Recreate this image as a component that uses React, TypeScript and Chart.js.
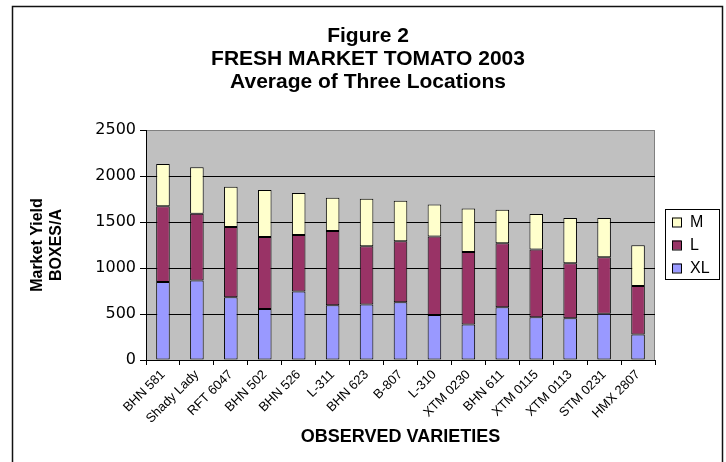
import React, { useEffect, useRef } from 'react';
import { Chart, registerables } from 'chart.js';

Chart.register(...registerables);

const categories = [
  'BHN 581', 'Shady Lady', 'RFT 6047', 'BHN 502', 'BHN 526', 'L-311', 'BHN 623',
  'B-807', 'L-310', 'XTM 0230', 'BHN 611', 'XTM 0115', 'XTM 0113', 'STM 0231', 'HMX 2807',
];
const xlValues = [847, 865, 683, 555, 745, 595, 602, 628, 489, 387, 573, 464, 453, 504, 277];
const lValues = [825, 726, 762, 781, 613, 807, 635, 664, 854, 788, 697, 737, 598, 613, 526];
const mValues = [458, 504, 438, 511, 456, 361, 515, 438, 347, 471, 362, 387, 493, 427, 445];
const seriesLabels = ['XL', 'L', 'M'];
const seriesColors = ['#9999FF', '#993366', '#FFFFCC'];
const titleLines = ['Figure 2', 'FRESH MARKET TOMATO 2003', 'Average of Three Locations'];
const yTitleLines = ['Market Yield', 'BOXES/A'];
const xTitle = 'OBSERVED VARIETIES';

const FONT = "'Liberation Sans', Arial, sans-serif";

const decor = {
  id: 'decor',
  beforeDraw(chart: any) {
    const { ctx, chartArea: a } = chart;
    ctx.save();
    ctx.fillStyle = '#ffffff';
    ctx.fillRect(0, 0, chart.width, chart.height);
    ctx.strokeStyle = '#111';
    ctx.lineWidth = 1.5;
    ctx.strokeRect(12.5, 6.5, 710, 480);
    ctx.fillStyle = '#C0C0C0';
    ctx.fillRect(a.left, a.top, a.right - a.left, a.bottom - a.top);
    ctx.strokeStyle = '#808080';
    ctx.lineWidth = 1;
    ctx.strokeRect(a.left + 0.5, a.top + 0.5, a.right - a.left - 1, a.bottom - a.top);
    ctx.fillStyle = '#000';
    ctx.font = `bold 21px ${FONT}`;
    ctx.textAlign = 'center';
    ctx.textBaseline = 'middle';
    titleLines.forEach((t, i) => ctx.fillText(t, 368, 36 + i * 23));
    ctx.restore();
  },
  afterDraw(chart: any) {
    const { ctx, chartArea: a } = chart;
    const cy = (a.top + a.bottom) / 2;
    const bx = a.right + 10;
    const by = cy - 36;
    ctx.save();
    ctx.fillStyle = '#fff';
    ctx.fillRect(bx, by, 54, 70);
    ctx.strokeStyle = '#000';
    ctx.lineWidth = 1;
    ctx.strokeRect(bx + 0.5, by + 0.5, 54, 70);
    const ds = chart.data.datasets;
    ctx.font = `16px ${FONT}`;
    ctx.textAlign = 'left';
    ctx.textBaseline = 'middle';
    for (let i = 0; i < ds.length; i++) {
      const d = ds[ds.length - 1 - i];
      const y = cy - 23 + i * 23;
      ctx.fillStyle = d.backgroundColor;
      ctx.fillRect(bx + 7, y - 4.5, 9, 9);
      ctx.strokeStyle = '#000';
      ctx.strokeRect(bx + 7.5, y - 4, 9, 9);
      ctx.fillStyle = '#000';
      ctx.fillText(d.label, bx + 25, y + 1);
    }
    ctx.restore();
  },
};

export default function App() {
  const ref = useRef<HTMLCanvasElement>(null);
  useEffect(() => {
    if (!ref.current) return;
    Chart.defaults.font.family = FONT;
    Chart.defaults.color = '#000';
    const values = [xlValues, lValues, mValues];
    const chart = new Chart(ref.current, {
      type: 'bar',
      data: {
        labels: categories,
        datasets: values.map((v, i) => ({
          label: seriesLabels[i],
          data: v,
          backgroundColor: seriesColors[i],
          borderColor: '#000',
          borderWidth: 1,
          borderSkipped: false,
          categoryPercentage: 1,
          barPercentage: 0.4,
        })),
      },
      options: {
        responsive: false,
        animation: false,
        events: [],
        layout: { padding: { left: 0, right: 71, top: 130, bottom: 0 } },
        plugins: {
          legend: { display: false },
          title: { display: false },
          tooltip: { enabled: false },
        },
        scales: {
          x: {
            stacked: true,
            grid: { display: true, drawOnChartArea: false, drawTicks: true, tickLength: 5, color: '#000', offset: true },
            border: { color: '#000', width: 1 },
            ticks: {
              minRotation: 45,
              maxRotation: 45,
              autoSkip: false,
              padding: 2,
              color: '#000',
              font: { family: FONT, size: 13 },
            },
            title: {
              display: true,
              text: xTitle,
              color: '#000',
              font: { family: FONT, size: 18, weight: 'bold' },
              padding: { top: 0, bottom: 14 },
            },
            afterFit(s: any) { s.height = 102; },
          },
          y: {
            stacked: true,
            min: 0,
            max: 2500,
            ticks: {
              stepSize: 500,
              padding: 4,
              color: '#000',
              font: { family: "'DejaVu Sans', sans-serif", size: 16 },
              callback: (v: any) => String(v),
            },
            grid: {
              color: (c: any) => (c.tick && c.tick.value === 2500 ? '#808080' : '#000'),
              tickColor: '#000',
              tickLength: 6,
            },
            border: { color: '#000', width: 1 },
            title: {
              display: true,
              text: yTitleLines,
              color: '#000',
              font: { family: FONT, size: 16, weight: 'bold', lineHeight: 1.2 },
              padding: { top: 28, bottom: 0 },
            },
            afterFit(s: any) { s.width = 146; },
          },
        },
      },
      plugins: [decor],
    });
    return () => chart.destroy();
  }, []);
  return (
    <div style={{ position: 'fixed', left: 0, top: 0, width: 726, height: 462 }}>
      <canvas ref={ref} width={726} height={462} style={{ display: 'block' }} />
    </div>
  );
}
